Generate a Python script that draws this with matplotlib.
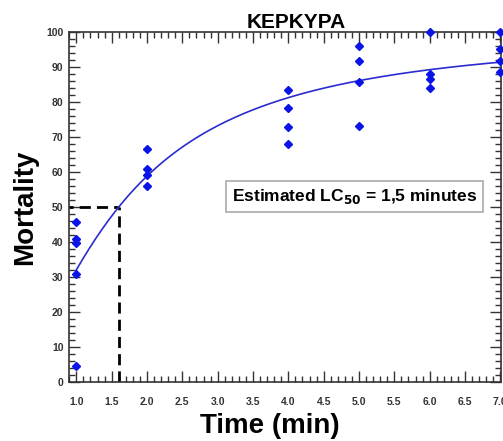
import matplotlib
matplotlib.use('Agg')
import matplotlib.pyplot as plt
import numpy as np
from matplotlib.ticker import MultipleLocator

plt.rcParams['font.family'] = ['Liberation Sans', 'DejaVu Sans']

# observed mortality per exposure time
times = [1.0, 1.0, 1.0, 1.0, 1.0,
         2.0, 2.0, 2.0, 2.0,
         4.0, 4.0, 4.0, 4.0,
         5.0, 5.0, 5.0, 5.0,
         6.0, 6.0, 6.0, 6.0,
         7.0, 7.0, 7.0, 7.0]
mortality = [45.7, 40.8, 39.8, 30.9, 4.7,
             66.7, 61.0, 59.1, 56.1,
             83.4, 78.3, 72.9, 68.0,
             96.0, 91.7, 85.8, 73.1,
             100.0, 88.0, 86.5, 84.0,
             100.0, 95.2, 91.7, 88.6]

# fitted dose-response curve (Hill model)
fit_top = 100.0
fit_lc50 = 1.6
fit_slope = 1.6
lc50_x = 1.6
lc50_y = 50

title = 'KEPKYPA'
xlabel = 'Time (min)'
ylabel = 'Mortality'
note = 'Estimated LC$_{\\mathbf{50}}$ = 1,5 minutes'

fig = plt.figure(figsize=(5.03, 4.41), dpi=100, facecolor='white')
ax = fig.add_axes([69 / 503, 1 - 382 / 441, 432 / 503, 350 / 441])

xs = np.linspace(1.0, 7.0, 200)
ys = fit_top * xs ** fit_slope / (fit_lc50 ** fit_slope + xs ** fit_slope)
ax.plot(xs, ys, color='#2b2bd0', lw=1.2, zorder=3)

ax.plot(times, mortality, linestyle='none', marker='D', markersize=4,
        color='#0a14e6', clip_on=False, zorder=4)

dash = (0, (4, 2.2))
ax.plot([0.8, lc50_x], [lc50_y, lc50_y], color='black', lw=2, linestyle=dash)
ax.plot([lc50_x, lc50_x], [0, lc50_y], color='black', lw=2, linestyle=dash)

ax.set_xlim(0.896, 7.01)
ax.set_ylim(0, 100)

ax.xaxis.set_major_locator(MultipleLocator(0.5))
ax.xaxis.set_minor_locator(MultipleLocator(0.1))
ax.yaxis.set_major_locator(MultipleLocator(10))
ax.yaxis.set_minor_locator(MultipleLocator(2))
ax.xaxis.set_major_formatter(matplotlib.ticker.FormatStrFormatter('%.1f'))

ax.tick_params(which='both', direction='in', top=True, right=True,
               color='#333333', width=1)
ax.tick_params(which='major', length=8, labelsize=7.5, labelcolor='#333333')
ax.tick_params(which='minor', length=4)
ax.tick_params(axis='x', which='major', pad=11)
ax.tick_params(axis='y', which='major', pad=4)
for lab in ax.get_xticklabels() + ax.get_yticklabels():
    lab.set_fontweight('bold')

for sp in ax.spines.values():
    sp.set_color('#333333')
    sp.set_linewidth(1.2)

ax.set_title(title, fontsize=15, fontweight='bold', pad=2, x=0.525)
ax.set_xlabel(xlabel, fontsize=20, fontweight='bold', va='center')
ax.xaxis.set_label_coords(0.465, -0.126)
ax.set_ylabel(ylabel, fontsize=20, fontweight='bold', labelpad=6)

ax.text(4.94, 52.9, note, fontsize=12.5, fontweight='bold', ha='center',
        va='center', zorder=5,
        bbox=dict(boxstyle='square,pad=0.35', facecolor='white',
                  edgecolor='#aaaaaa', linewidth=1.2))

fig.savefig('out.png', dpi=100, facecolor='white')
